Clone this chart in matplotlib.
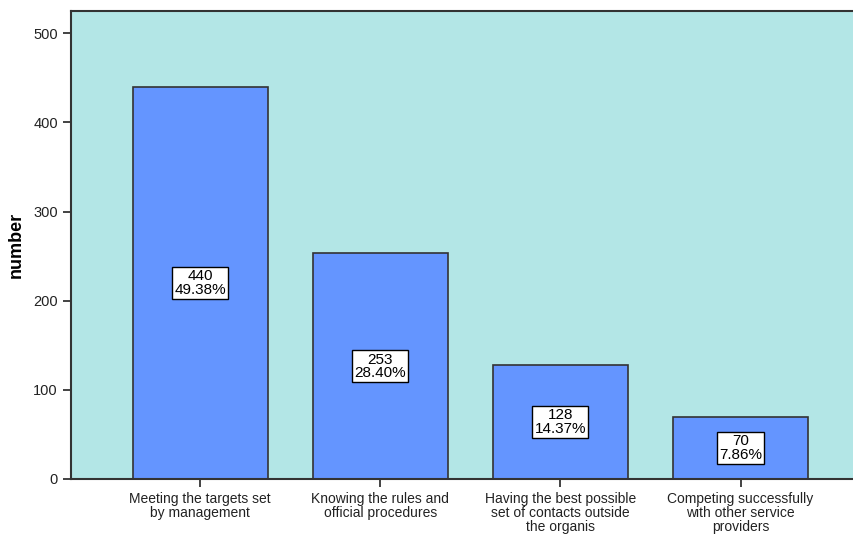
import matplotlib
matplotlib.use("Agg")
import matplotlib.pyplot as plt
import numpy as np

categories = ["Meeting the targets set\nby management",
              "Knowing the rules and\nofficial procedures",
              "Having the best possible\nset of contacts outside\nthe organis",
              "Competing successfully\nwith other service\nproviders"]
counts = [440, 253, 128, 70]
percents = ["49.38%", "28.40%", "14.37%", "7.86%"]

plt.rcParams["font.family"] = ["Liberation Sans", "DejaVu Sans"]

fig = plt.figure(figsize=(8.54, 5.4), dpi=100)
ax = fig.add_axes([71 / 854, 61 / 540, 1 - 71 / 854, 468 / 540])
ax.set_facecolor("#b3e6e6")

x = np.arange(len(counts))
ax.bar(x, counts, width=0.75, color="#6495ff", edgecolor="#333333", linewidth=1.2, zorder=2)

for xi, c, p in zip(x, counts, percents):
    ax.text(xi, c / 2, f"{c}\n{p}", ha="center", va="center", fontsize=11,
            linespacing=0.95, zorder=3,
            bbox=dict(boxstyle="square,pad=0.15", facecolor="white", edgecolor="black", linewidth=1))

ax.set_xlim(-0.717, 3.63)
ax.set_ylim(0, 525)
ax.set_yticks([0, 100, 200, 300, 400, 500])
ax.set_xticks(x)
ax.set_xticklabels(categories, fontsize=10, linespacing=1.0)
ax.tick_params(axis="y", labelsize=10.5, length=6, width=1.2, colors="#222222")
ax.tick_params(axis="x", length=6, width=1.2, colors="#222222")
ax.set_ylabel("number", fontsize=13, fontweight="bold", labelpad=6)

ax.spines["right"].set_visible(False)
for s in ["left", "top", "bottom"]:
    ax.spines[s].set_linewidth(1.5)
    ax.spines[s].set_color("#333333")

fig.savefig("out.png", dpi=100)
